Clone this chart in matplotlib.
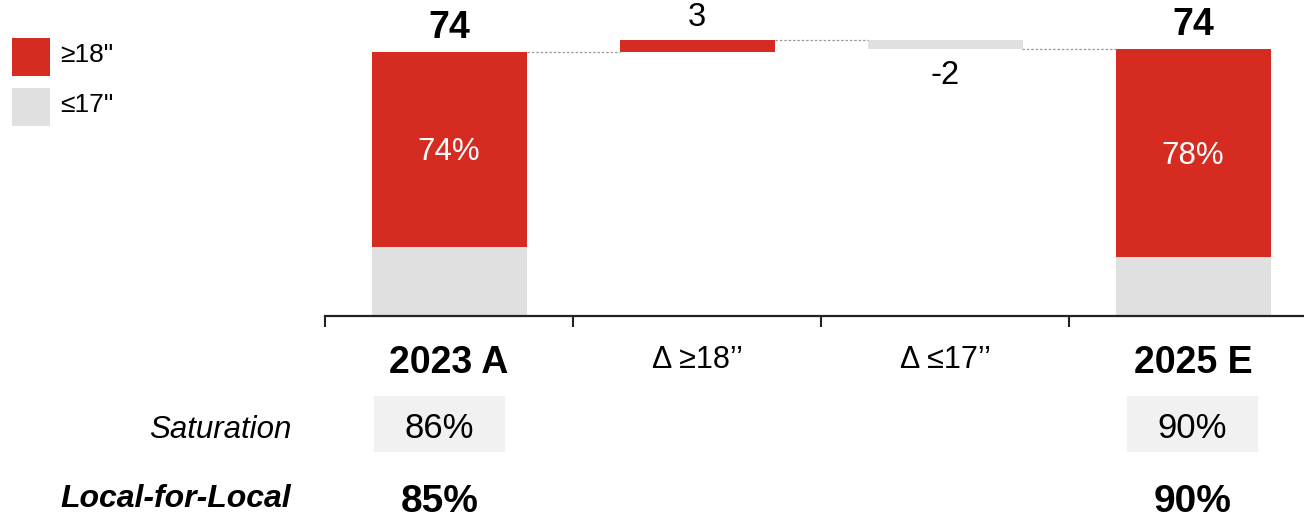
import matplotlib
matplotlib.use("Agg")
import matplotlib.pyplot as plt
from matplotlib.patches import Rectangle

# ---- data -------------------------------------------------------------
categories = ["2023 A", "Δ ≥18’’", "Δ ≤17’’", "2025 E"]
start_total = 73.6          # 2023 A fleet size
delta_ge18 = 3.3            # change in ≥18" segment
delta_le17 = -2.45          # change in ≤17" segment
end_total = start_total + delta_ge18 + delta_le17   # 2025 E
share_ge18 = [0.74, 0.78]   # share of ≥18" in 2023 A / 2025 E
saturation = [86, 90]
local_for_local = [85, 90]
legend_labels = ['≥18"', '≤17"']

# ---- style ------------------------------------------------------------
RED = "#D62B20"
GREY = "#E0E0E0"
BOX = "#F1F1F1"
FONT = ["Liberation Sans", "DejaVu Sans"]
plt.rcParams["font.family"] = FONT

W, H = 1304, 520
fig = plt.figure(figsize=(W / 100, H / 100), dpi=100)

# axes: x = -0.5 at px 325, 248 px per category; y = 0 at px 316
px_per_cat = 248
left_px, base_px = 325, 316
ax = fig.add_axes([left_px / W, (H - base_px) / H, (W - left_px) / W, base_px / H])
ax.set_xlim(-0.5, -0.5 + (W - left_px) / px_per_cat)
ax.set_ylim(0, 88.0)

bw = 0.625
x_start, x_up, x_down, x_end = range(4)
totals = [start_total, end_total]

# totals split into ≥18" (top, red) and ≤17" (bottom, grey)
for x, tot, sh in zip([x_start, x_end], totals, share_ge18):
    low = tot * (1 - sh)
    ax.bar(x, low, width=bw, color=GREY, linewidth=0)
    ax.bar(x, tot * sh, bottom=low, width=bw, color=RED, linewidth=0)
    ax.annotate(f"{tot:.0f}", xy=(x, tot), xytext=(0, 14), textcoords="offset pixels",
                ha="center", va="baseline", fontsize=27, fontweight="bold")
    ax.annotate(f"{sh * 100:.0f}%", xy=(x, low + tot * sh / 2), xytext=(0, -11),
                textcoords="offset pixels", ha="center", va="baseline",
                fontsize=22.5, color="white")

# floating deltas
lvl1 = start_total + delta_ge18
ax.bar(x_up, delta_ge18, bottom=start_total, width=bw, color=RED, linewidth=0)
ax.annotate(f"{delta_ge18:.0f}", xy=(x_up, lvl1), xytext=(0, 13.5), textcoords="offset pixels",
            ha="center", va="baseline", fontsize=23.5)
lvl2 = lvl1 + delta_le17
ax.bar(x_down, delta_le17, bottom=lvl1, width=bw, color=GREY, linewidth=0)
ax.annotate(f"{delta_le17:.0f}", xy=(x_down, lvl2), xytext=(0, -35), textcoords="offset pixels",
            ha="center", va="baseline", fontsize=23.5)

# connectors
conn = dict(color="#9A9A9A", linewidth=0.9, linestyle=(0, (2, 1.5)))
for xa, xb, lvl in [(x_start, x_up, start_total), (x_up, x_down, lvl1), (x_down, x_end, lvl2)]:
    ax.plot([xa + bw / 2, xb - bw / 2], [lvl, lvl], **conn)

# axis styling
for s in ("top", "right", "left"):
    ax.spines[s].set_visible(False)
ax.spines["bottom"].set_linewidth(1.6)
ax.spines["bottom"].set_color("#222222")
ax.set_yticks([])
ax.set_xticks([])
ax.set_xticks([-0.5, 0.5, 1.5, 2.5], minor=True)
ax.tick_params(axis="x", which="minor", length=8, width=1.5, color="#222222", labelbottom=False)

# category labels
for i, lab in enumerate(categories):
    bold = i in (x_start, x_end)
    ax.annotate(lab, xy=(i, 0), xycoords=ax.get_xaxis_transform(),
                xytext=(0, -57 if bold else -52.5), textcoords="offset pixels",
                ha="center", va="baseline",
                fontsize=27 if bold else 22, fontweight="bold" if bold else "normal")


def fx(x):
    return x / W


def fy(y):
    return 1 - y / H


# legend
for (y0, y1), col, lab, base in zip([(38, 76), (88, 126)], [RED, GREY], legend_labels, [62, 112]):
    fig.patches.append(Rectangle((fx(12), fy(y1)), 38 / W, (y1 - y0) / H,
                                 transform=fig.transFigure, color=col, linewidth=0))
    fig.text(fx(60), fy(base), lab, fontsize=19, va="baseline", ha="left")

# table below the chart
fig.text(fx(291), fy(438.5), "Saturation", fontsize=22.5, style="italic", ha="right", va="baseline")
fig.text(fx(291), fy(506.7), "Local-for-Local", fontsize=23, style="italic", fontweight="bold",
         ha="right", va="baseline")
col_centers = [439.5, 1192.5]
for cx, sat, lfl in zip(col_centers, saturation, local_for_local):
    fig.patches.append(Rectangle((fx(cx - 65.5), fy(452)), 131 / W, 56 / H,
                                 transform=fig.transFigure, color=BOX, linewidth=0))
    fig.text(fx(cx), fy(438), f"{sat}%", fontsize=25, ha="center", va="baseline")
    fig.text(fx(cx), fy(512), f"{lfl}%", fontsize=28, fontweight="bold", ha="center", va="baseline")

fig.savefig("out.png", dpi=100)
